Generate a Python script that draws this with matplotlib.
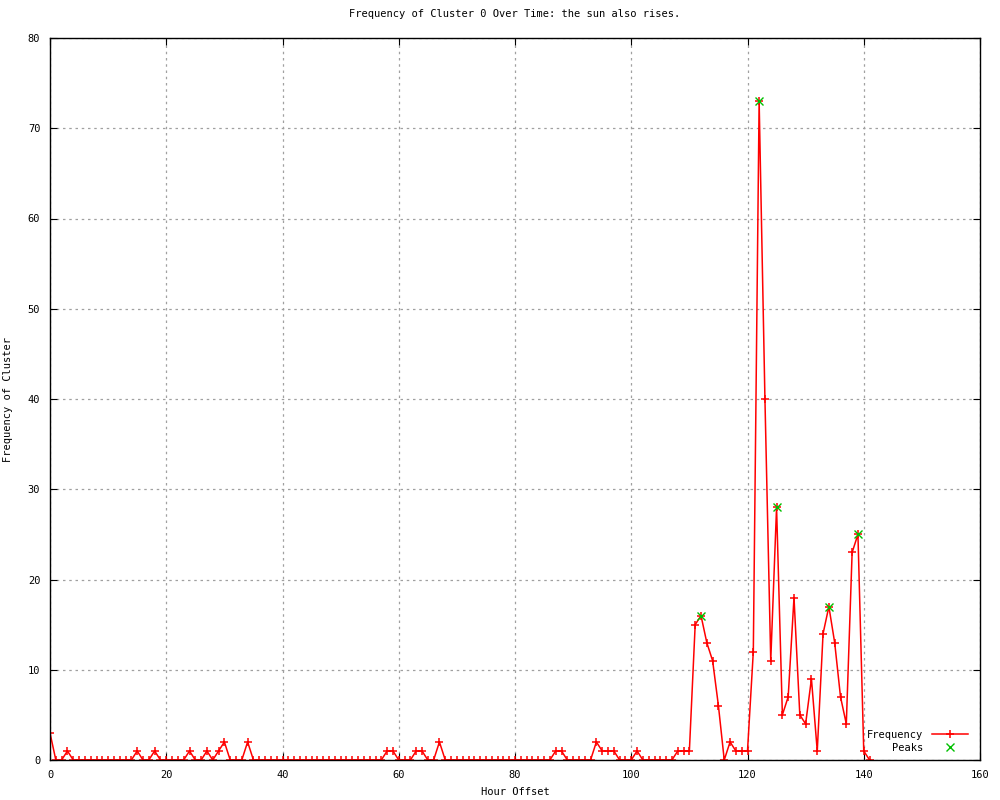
import matplotlib
matplotlib.use("Agg")
import matplotlib.pyplot as plt
from matplotlib.ticker import MultipleLocator

# hourly counts, hour 0 .. 141
hours = list(range(0, 142))
freq = [3, 0, 0, 1, 0, 0, 0, 0, 0, 0,
        0, 0, 0, 0, 0, 1, 0, 0, 1, 0,
        0, 0, 0, 0, 1, 0, 0, 1, 0, 1,
        2, 0, 0, 0, 2, 0, 0, 0, 0, 0,
        0, 0, 0, 0, 0, 0, 0, 0, 0, 0,
        0, 0, 0, 0, 0, 0, 0, 0, 1, 1,
        0, 0, 0, 1, 1, 0, 0, 2, 0, 0,
        0, 0, 0, 0, 0, 0, 0, 0, 0, 0,
        0, 0, 0, 0, 0, 0, 0, 1, 1, 0,
        0, 0, 0, 0, 2, 1, 1, 1, 0, 0,
        0, 1, 0, 0, 0, 0, 0, 0, 1, 1,
        1, 15, 16, 13, 11, 6, 0, 2, 1, 1,
        1, 12, 73, 40, 11, 28, 5, 7, 18, 5,
        4, 9, 1, 14, 17, 13, 7, 4, 23, 25,
        1, 0]

peak_hours = [112, 122, 125, 134, 139]
peak_vals = [16, 73, 28, 17, 25]

mono = "DejaVu Sans Mono"
fs = 7.5

fig = plt.figure(figsize=(10, 8), dpi=100)
ax = fig.add_axes([0.05, 0.05, 0.93, 0.9025])

ax.plot(hours, freq, color="red", lw=1.1, marker="+", ms=6, mew=1.1,
        label="Frequency")
ax.plot(peak_hours, peak_vals, ls="none", color="#00c000", marker="x",
        ms=5.5, mew=1.0, label="Peaks")

ax.set_xlim(0, 160)
ax.set_ylim(0, 80)
ax.xaxis.set_major_locator(MultipleLocator(20))
ax.yaxis.set_major_locator(MultipleLocator(10))
ax.grid(True, color="#a0a0a0", ls=(0, (2, 3)), lw=0.9)
ax.tick_params(direction="in", top=True, right=True, length=5,
               labelsize=fs, pad=7)
for lab in ax.get_xticklabels() + ax.get_yticklabels():
    lab.set_family(mono)
for s in ax.spines.values():
    s.set_linewidth(1.0)

ax.set_title("Frequency of Cluster 0 Over Time: the sun also rises.",
             fontsize=fs, family=mono, pad=15)
ax.set_xlabel("Hour Offset", fontsize=fs, family=mono)
ax.set_ylabel("Frequency of Cluster", fontsize=fs, family=mono)
ax.xaxis.set_label_coords(0.5, -0.037)
ax.yaxis.set_label_coords(-0.040, 0.5)

leg = ax.legend(loc="lower right", frameon=False, prop={"family": mono, "size": fs},
                markerfirst=False, handlelength=3.5, borderaxespad=0.3,
                labelspacing=0.25, bbox_to_anchor=(0.995, 0.0))

fig.savefig("out.png", dpi=100)
